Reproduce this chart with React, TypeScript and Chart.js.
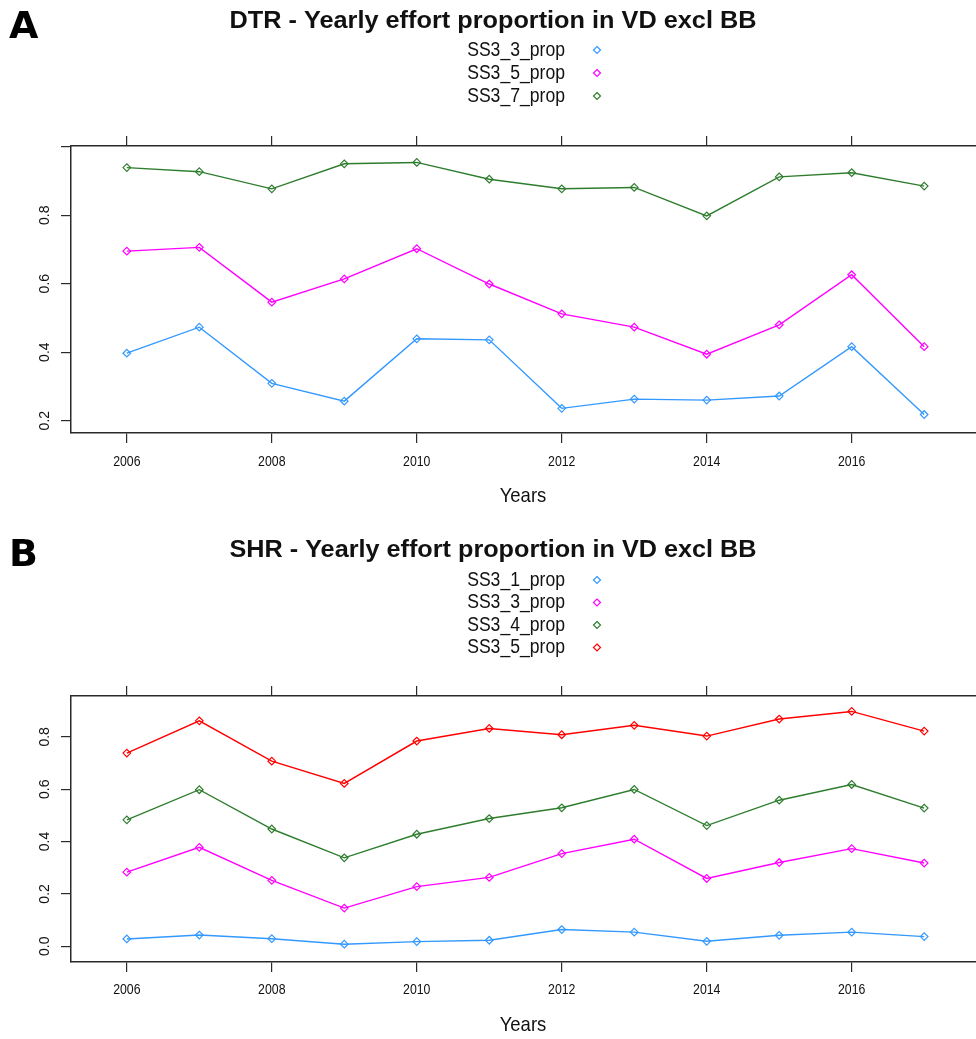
import React, { useEffect, useRef } from "react";
import { Chart, registerables } from "chart.js";

Chart.register(...registerables);

// ---------- data ----------
const years = [2006, 2007, 2008, 2009, 2010, 2011, 2012, 2013, 2014, 2015, 2016, 2017];
const xTickLabels = ["2006", "2008", "2010", "2012", "2014", "2016"];
const xRange = [2005.23, 2017.77];

const titleA = "DTR - Yearly effort proportion in VD excl BB";
const namesA = ["SS3_3_prop", "SS3_5_prop", "SS3_7_prop"];
const dtrSS3_3 = [0.397, 0.473, 0.309, 0.257, 0.439, 0.436, 0.236, 0.263, 0.26, 0.272, 0.416, 0.218];
const dtrSS3_5 = [0.695, 0.706, 0.546, 0.614, 0.702, 0.599, 0.512, 0.473, 0.394, 0.48, 0.626, 0.416];
const dtrSS3_7 = [0.939, 0.927, 0.877, 0.95, 0.954, 0.905, 0.877, 0.881, 0.798, 0.912, 0.924, 0.885];
const yTickLabelsA = ["0.2", "0.4", "0.6", "0.8"];
const yRangeA = [0.164, 1.002];

const titleB = "SHR - Yearly effort proportion in VD excl BB";
const namesB = ["SS3_1_prop", "SS3_3_prop", "SS3_4_prop", "SS3_5_prop"];
const shrSS3_1 = [0.028, 0.043, 0.029, 0.008, 0.018, 0.023, 0.064, 0.054, 0.019, 0.042, 0.054, 0.037];
const shrSS3_3 = [0.283, 0.378, 0.252, 0.146, 0.228, 0.263, 0.354, 0.409, 0.259, 0.32, 0.373, 0.318];
const shrSS3_4 = [0.483, 0.598, 0.448, 0.338, 0.428, 0.488, 0.529, 0.599, 0.461, 0.558, 0.618, 0.528];
const shrSS3_5 = [0.738, 0.861, 0.707, 0.622, 0.784, 0.832, 0.808, 0.844, 0.803, 0.868, 0.897, 0.822];
const yTickLabelsB = ["0.0", "0.2", "0.4", "0.6", "0.8"];
const yRangeB = [-0.06, 0.956];

const xTitle = "Years";

// ---------- styles ----------
const BLUE = "#3399ff";
const MAGENTA = "#ff00ff";
const GREEN = "#2e7d2e";
const RED = "#ff0000";
const AXIS = "#2a2a2a";
const FONT = "'Liberation Sans', Arial, Helvetica, sans-serif";

function drawText(
  ctx: CanvasRenderingContext2D,
  text: string,
  x: number,
  y: number,
  font: string,
  align: CanvasTextAlign,
  sx = 1,
  rot = 0
) {
  ctx.save();
  ctx.translate(x, y);
  if (rot) ctx.rotate(rot);
  ctx.scale(sx, 1);
  ctx.font = font;
  ctx.textAlign = align;
  ctx.textBaseline = "middle";
  ctx.fillStyle = "#111";
  ctx.fillText(text, 0, 0);
  ctx.restore();
}

function diamond(ctx: CanvasRenderingContext2D, x: number, y: number, r: number, color: string) {
  ctx.beginPath();
  ctx.moveTo(x, y - r);
  ctx.lineTo(x + r, y);
  ctx.lineTo(x, y + r);
  ctx.lineTo(x - r, y);
  ctx.closePath();
  ctx.strokeStyle = color;
  ctx.lineWidth = 1.2;
  ctx.stroke();
}

const textPlugin = {
  id: "panelText",
  afterDraw(chart: any, _args: any, o: any) {
    const ctx: CanvasRenderingContext2D = chart.ctx;
    const L = o.layout;
    ctx.save();
    // panel letter
    ctx.font = `bold 38px 'DejaVu Sans', ${FONT}`;
    ctx.textAlign = "left";
    ctx.textBaseline = "alphabetic";
    ctx.fillStyle = "#000";
    ctx.fillText(o.letter, L.letterX, L.letterY);
    // title (condensed to match width)
    const tf = `bold 24px ${FONT}`;
    ctx.font = tf;
    const tw = ctx.measureText(o.title).width;
    drawText(ctx, o.title, L.titleX, L.titleY, tf, "center", L.titleWidth / tw);
    // legend
    o.names.forEach((n: string, i: number) => {
      const y = L.legendY + i * L.legendStep;
      drawText(ctx, n, L.legendTextRight, y, `20px ${FONT}`, "right", L.condense);
      diamond(ctx, L.legendMarkX, y, 3.5, o.colors[i]);
    });
    // y tick labels (rotated)
    const ys = chart.scales.y;
    o.yLabels.forEach((lab: string) => {
      const py = ys.getPixelForValue(parseFloat(lab));
      drawText(ctx, lab, L.yLabelX, py, `14px ${FONT}`, "center", 1, -Math.PI / 2);
    });
    // x tick labels
    const xs = chart.scales.x;
    o.xLabels.forEach((lab: string) => {
      const px = xs.getPixelForValue(parseFloat(lab));
      drawText(ctx, lab, px, L.xLabelY, `15px ${FONT}`, "center", 0.82);
    });
    // x title
    drawText(ctx, o.xTitle, L.xTitleX, L.xTitleY, `21px ${FONT}`, "center", L.condense);
    ctx.restore();
  },
};

function axisOpts(position: string, min: number, max: number, step: number, horizontal: boolean) {
  return {
    type: "linear",
    position,
    min,
    max,
    ticks: { display: false, stepSize: step, includeBounds: false },
    grid: {
      drawOnChartArea: false,
      drawTicks: true,
      tickLength: 10,
      tickColor: AXIS,
      color: AXIS,
      lineWidth: 1.2,
    },
    border: { display: true, color: AXIS, width: 1.5 },
    afterFit: (s: any) => {
      if (horizontal) s.height = 10;
      else s.width = 10;
    },
  };
}

function makeConfig(
  values: number[][],
  names: string[],
  colors: string[],
  yRange: number[],
  yLabels: string[],
  padding: any,
  text: any
) {
  return {
    type: "line",
    data: {
      datasets: values.map((v, i) => ({
        label: names[i],
        data: years.map((yr, j) => ({ x: yr, y: v[j] })),
        borderColor: colors[i],
        borderWidth: 1.4,
        pointStyle: "rectRot",
        pointRadius: 3.8,
        pointBorderWidth: 1.2,
        pointBorderColor: colors[i],
        pointBackgroundColor: "rgba(0,0,0,0)",
        tension: 0,
        xAxisID: "x",
        yAxisID: "y",
      })),
    },
    options: {
      responsive: false,
      animation: false,
      devicePixelRatio: 1,
      layout: { padding },
      scales: {
        x: axisOpts("bottom", xRange[0], xRange[1], 2, true),
        x2: axisOpts("top", xRange[0], xRange[1], 2, true),
        y: axisOpts("left", yRange[0], yRange[1], 0.2, false),
      },
      plugins: {
        legend: { display: false },
        tooltip: { enabled: false },
        panelText: { ...text, names, colors, yLabels, xLabels: xTickLabels, xTitle },
      },
    },
    plugins: [textPlugin],
  };
}

function Panel({ top, height, config }: { top: number; height: number; config: any }) {
  const ref = useRef<HTMLCanvasElement>(null);
  useEffect(() => {
    const chart = new Chart(ref.current as HTMLCanvasElement, config);
    return () => chart.destroy();
  }, []);
  return (
    <div style={{ position: "absolute", left: 0, top, width: 1000, height }}>
      <canvas ref={ref} width={1000} height={height} style={{ display: "block" }} />
    </div>
  );
}

const colorsA = [BLUE, MAGENTA, GREEN];
const colorsB = [BLUE, MAGENTA, GREEN, RED];

const configA = makeConfig(
  [dtrSS3_3, dtrSS3_5, dtrSS3_7],
  namesA,
  colorsA,
  yRangeA,
  yTickLabelsA,
  { left: 61, top: 136, right: 20, bottom: 72 },
  {
    letter: "A",
    title: titleA,
    layout: {
      letterX: 9, letterY: 38,
      titleX: 493, titleY: 21, titleWidth: 527,
      legendY: 50, legendStep: 23, legendTextRight: 565, legendMarkX: 597,
      yLabelX: 45, xLabelY: 462, xTitleX: 523, xTitleY: 496, condense: 0.88,
    },
  }
);

const configB = makeConfig(
  [shrSS3_1, shrSS3_3, shrSS3_4, shrSS3_5],
  namesB,
  colorsB,
  yRangeB,
  yTickLabelsB,
  { left: 61, top: 171, right: 20, bottom: 67 },
  {
    letter: "B",
    title: titleB,
    layout: {
      letterX: 9, letterY: 51,
      titleX: 493, titleY: 35, titleWidth: 527,
      legendY: 65, legendStep: 22.5, legendTextRight: 565, legendMarkX: 597,
      yLabelX: 45, xLabelY: 475, xTitleX: 523, xTitleY: 510, condense: 0.88,
    },
  }
);

export default function App() {
  return (
    <div
      style={{
        position: "absolute",
        left: 0,
        top: 0,
        width: 976,
        height: 1039,
        overflow: "hidden",
        background: "#fff",
      }}
    >
      <Panel top={0} height={515} config={configA} />
      <Panel top={515} height={524} config={configB} />
    </div>
  );
}
